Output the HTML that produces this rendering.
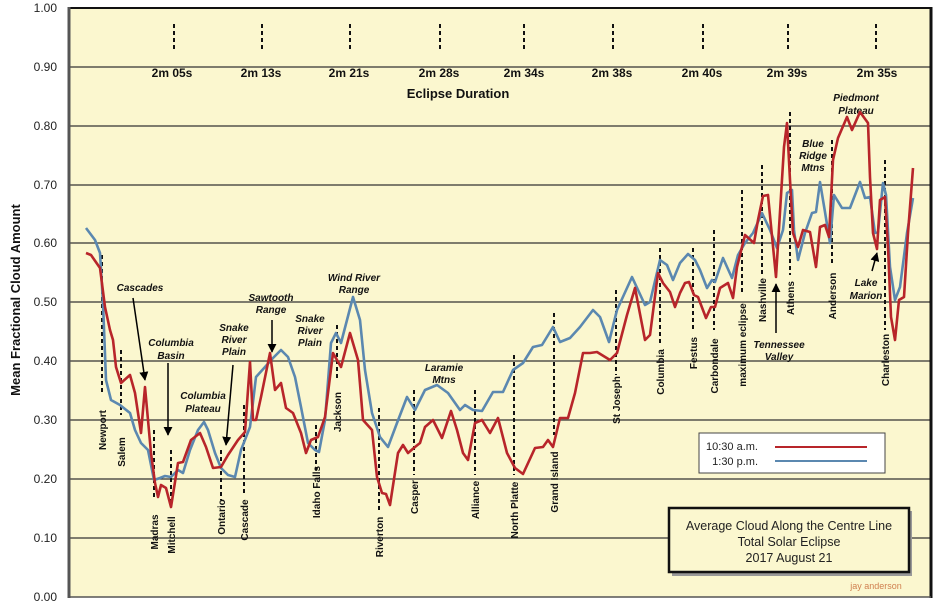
<!DOCTYPE html>
<html><head><meta charset="utf-8"><style>
body{margin:0;background:#fff}
svg{display:block;font-family:"Liberation Sans",Arial,sans-serif}
.g{stroke:#333;stroke-width:1.2}
.d{stroke:#111;stroke-width:2;stroke-dasharray:4,3}
.t{font-size:12px;fill:#222}
.a{font-size:10px;font-style:italic;font-weight:bold;fill:#111;text-anchor:middle}
.s{font-size:10px;font-weight:bold;fill:#111}
.du{font-size:12px;font-weight:bold;fill:#111;text-anchor:middle}
</style></head><body>
<svg width="940" height="609" viewBox="0 0 940 609" xmlns="http://www.w3.org/2000/svg">
<defs><marker id="ar" viewBox="0 0 10 10" refX="9" refY="5" markerWidth="6" markerHeight="6" orient="auto"><path d="M0,0L10,5L0,10z" fill="#000"/></marker></defs>
<rect x="69" y="7" width="862" height="590" fill="#fbf7cf"/>
<g class="g">
<line x1="69" y1="67" x2="931" y2="67"/><line x1="69" y1="126" x2="931" y2="126"/>
<line x1="69" y1="185" x2="931" y2="185"/><line x1="69" y1="243" x2="931" y2="243"/>
<line x1="69" y1="302" x2="931" y2="302"/><line x1="69" y1="361" x2="931" y2="361"/>
<line x1="69" y1="420" x2="931" y2="420"/><line x1="69" y1="479" x2="931" y2="479"/>
<line x1="69" y1="538" x2="931" y2="538"/>
</g>
<g class="t" text-anchor="end">
<text x="57" y="12">1.00</text><text x="57" y="71">0.90</text><text x="57" y="130">0.80</text><text x="57" y="189">0.70</text><text x="57" y="247">0.60</text><text x="57" y="306">0.50</text><text x="57" y="365">0.40</text><text x="57" y="424">0.30</text><text x="57" y="483">0.20</text><text x="57" y="542">0.10</text><text x="57" y="601">0.00</text>
</g>
<text transform="translate(20,300) rotate(-90)" text-anchor="middle" font-size="13" font-weight="bold" fill="#111">Mean Fractional Cloud Amount</text>
<g class="d">
<line x1="174" y1="24" x2="174" y2="52"/><line x1="262" y1="24" x2="262" y2="52"/><line x1="350" y1="24" x2="350" y2="52"/><line x1="440" y1="24" x2="440" y2="52"/><line x1="524" y1="24" x2="524" y2="52"/><line x1="613" y1="24" x2="613" y2="52"/><line x1="703" y1="24" x2="703" y2="52"/><line x1="788" y1="24" x2="788" y2="52"/><line x1="876" y1="24" x2="876" y2="52"/>
</g>
<g class="du">
<text x="172" y="77">2m 05s</text><text x="261" y="77">2m 13s</text><text x="349" y="77">2m 21s</text><text x="439" y="77">2m 28s</text><text x="524" y="77">2m 34s</text><text x="612" y="77">2m 38s</text><text x="702" y="77">2m 40s</text><text x="787" y="77">2m 39s</text><text x="877" y="77">2m 35s</text>
</g>
<text x="458" y="98" text-anchor="middle" font-size="13" font-weight="bold" fill="#111">Eclipse Duration</text>
<g class="d">
<line x1="102" y1="255" x2="102" y2="395"/><line x1="121" y1="350" x2="121" y2="415"/><line x1="154" y1="430" x2="154" y2="500"/><line x1="171" y1="450" x2="171" y2="505"/><line x1="221" y1="450" x2="221" y2="500"/><line x1="244" y1="405" x2="244" y2="495"/><line x1="316" y1="425" x2="316" y2="470"/><line x1="337" y1="325" x2="337" y2="380"/><line x1="379" y1="408" x2="379" y2="510"/><line x1="414" y1="390" x2="414" y2="475"/><line x1="475" y1="390" x2="475" y2="475"/><line x1="514" y1="355" x2="514" y2="475"/><line x1="554" y1="313" x2="554" y2="435"/><line x1="616" y1="290" x2="616" y2="375"/><line x1="660" y1="248" x2="660" y2="345"/><line x1="693" y1="248" x2="693" y2="330"/><line x1="714" y1="230" x2="714" y2="330"/><line x1="742" y1="190" x2="742" y2="295"/><line x1="762" y1="165" x2="762" y2="275"/><line x1="790" y1="112" x2="790" y2="275"/><line x1="832" y1="140" x2="832" y2="265"/><line x1="885" y1="160" x2="885" y2="330"/>
</g>
<g class="s" text-anchor="middle">
<text transform="translate(106,430) rotate(-90)">Newport</text>
<text transform="translate(125,452) rotate(-90)">Salem</text>
<text transform="translate(158,532) rotate(-90)">Madras</text>
<text transform="translate(175,535) rotate(-90)">Mitchell</text>
<text transform="translate(225,517) rotate(-90)">Ontario</text>
<text transform="translate(248,520) rotate(-90)">Cascade</text>
<text transform="translate(320,492) rotate(-90)">Idaho Falls</text>
<text transform="translate(341,412) rotate(-90)">Jackson</text>
<text transform="translate(383,537) rotate(-90)">Riverton</text>
<text transform="translate(418,497) rotate(-90)">Casper</text>
<text transform="translate(479,500) rotate(-90)">Alliance</text>
<text transform="translate(518,510) rotate(-90)">North Platte</text>
<text transform="translate(558,482) rotate(-90)">Grand Island</text>
<text transform="translate(620,400) rotate(-90)">St Joseph</text>
<text transform="translate(664,372) rotate(-90)">Columbia</text>
<text transform="translate(697,353) rotate(-90)">Festus</text>
<text transform="translate(718,366) rotate(-90)">Carbondale</text>
<text transform="translate(746,345) rotate(-90)">maximum eclipse</text>
<text transform="translate(766,300) rotate(-90)">Nashville</text>
<text transform="translate(794,298) rotate(-90)">Athens</text>
<text transform="translate(836,296) rotate(-90)">Anderson</text>
<text transform="translate(889,360) rotate(-90)">Charleston</text>
</g>
<g class="a">
<text x="140" y="291">Cascades</text>
<text x="171" y="346">Columbia</text><text x="171" y="359">Basin</text>
<text x="203" y="399">Columbia</text><text x="203" y="412">Plateau</text>
<text x="234" y="331">Snake</text><text x="234" y="343">River</text><text x="234" y="355">Plain</text>
<text x="271" y="301">Sawtooth</text><text x="271" y="313">Range</text>
<text x="310" y="322">Snake</text><text x="310" y="334">River</text><text x="310" y="346">Plain</text>
<text x="354" y="281">Wind River</text><text x="354" y="293">Range</text>
<text x="444" y="371">Laramie</text><text x="444" y="383">Mtns</text>
<text x="813" y="147">Blue</text><text x="813" y="159">Ridge</text><text x="813" y="171">Mtns</text>
<text x="856" y="101">Piedmont</text><text x="856" y="114">Plateau</text>
<text x="779" y="348">Tennessee</text><text x="779" y="360">Valley</text>
<text x="866" y="286">Lake</text><text x="866" y="299">Marion</text>
</g>
<g stroke="#000" stroke-width="1.5" marker-end="url(#ar)">
<line x1="133" y1="298" x2="145" y2="380"/><line x1="168" y1="363" x2="168" y2="435"/><line x1="233" y1="365" x2="226" y2="445"/><line x1="272" y1="320" x2="272" y2="352"/><line x1="776" y1="333" x2="776" y2="284"/><line x1="872" y1="271" x2="877" y2="253"/>
</g>
<polyline fill="none" stroke="#5b88b0" stroke-width="2.6" stroke-linejoin="round" points="86,228 95,240 100,253 103,303 106,380 111,400 120,405 130,413 135,430 141,443 148,450 154,480 160,478 165,476 171,477 178,470 183,473 190,450 198,430 204,422 208,430 215,453 221,468 228,475 235,477 241,450 250,427 256,377 265,367 273,358 281,350 288,357 295,377 301,407 308,443 315,450 319,452 325,420 331,343 336,333 341,343 353,297 360,320 365,370 372,413 380,437 388,447 397,423 407,397 415,410 425,390 437,385 448,393 460,410 465,405 473,410 482,411 493,392 503,392 513,370 523,363 533,347 542,345 553,327 560,342 570,338 580,327 593,310 600,317 609,342 617,310 632,277 645,305 650,302 660,260 667,265 673,280 680,263 688,254 695,260 700,270 707,288 712,280 715,282 723,258 732,278 738,255 745,243 753,233 762,213 770,230 777,248 783,230 787,193 792,190 794,230 798,260 805,233 812,213 816,212 820,182 825,212 830,243 834,195 842,208 850,208 860,182 865,198 870,197 875,233 878,232 883,183 886,195 890,267 895,300 900,287 907,233 913,198"/>
<polyline fill="none" stroke="#b8252a" stroke-width="2.6" stroke-linejoin="round" points="86,253 91,255 100,268 105,307 110,330 113,340 116,367 121,383 130,375 135,393 141,433 145,387 151,453 155,483 158,497 161,485 166,488 171,507 175,482 178,463 183,462 191,440 200,433 206,447 213,468 221,467 228,455 238,440 245,432 250,362 253,420 256,420 261,397 270,353 275,390 281,383 286,408 293,413 301,433 306,453 311,440 318,437 325,417 333,353 341,367 350,333 358,360 363,420 372,430 377,477 382,493 386,494 390,505 398,453 403,445 408,453 415,447 420,443 425,427 433,420 442,438 451,411 457,430 463,453 468,460 475,423 482,420 490,433 498,418 507,453 515,468 523,474 535,448 543,447 548,440 553,447 560,418 568,418 575,393 583,353 590,353 597,352 610,360 617,353 627,315 635,288 645,340 650,335 658,273 663,283 670,292 675,307 680,293 685,283 689,282 694,295 698,297 706,318 711,307 715,307 720,288 728,283 733,298 737,267 745,235 754,243 758,220 763,196 768,195 776,277 784,147 787,123 790,180 793,233 798,247 803,230 810,232 816,267 820,227 825,225 829,237 833,160 838,138 847,117 852,130 860,112 868,123 870,177 873,233 877,249 880,200 885,197 888,247 891,317 895,340 899,300 904,297 908,233 913,168"/>
<rect x="699" y="433" width="186" height="40" fill="#fff" stroke="#444" stroke-width="1"/>
<text x="758" y="450" text-anchor="end" font-size="11" fill="#222">10:30 a.m.</text>
<text x="758" y="465" text-anchor="end" font-size="11" fill="#222">1:30 p.m.</text>
<line x1="775" y1="447" x2="867" y2="447" stroke="#b8252a" stroke-width="2"/>
<line x1="775" y1="461" x2="867" y2="461" stroke="#5b88b0" stroke-width="2"/>
<rect x="672" y="511" width="240" height="65" fill="#999"/>
<rect x="669" y="508" width="240" height="64" fill="#fbf7cf" stroke="#111" stroke-width="2.5"/>
<g font-size="12.5" fill="#222" text-anchor="middle">
<text x="789" y="530">Average Cloud Along the Centre Line</text>
<text x="789" y="546">Total Solar Eclipse</text>
<text x="789" y="562">2017 August 21</text>
</g>
<text x="876" y="589" text-anchor="middle" font-size="9" fill="#d08050">jay anderson</text>
<line x1="69" y1="8" x2="931" y2="8" stroke="#111" stroke-width="2"/>
<line x1="69" y1="7" x2="69" y2="598" stroke="#555" stroke-width="3"/>
<line x1="931" y1="7" x2="931" y2="598" stroke="#111" stroke-width="3"/>
<line x1="69" y1="597" x2="931" y2="597" stroke="#555" stroke-width="1.5"/>
</svg>
</body></html>
